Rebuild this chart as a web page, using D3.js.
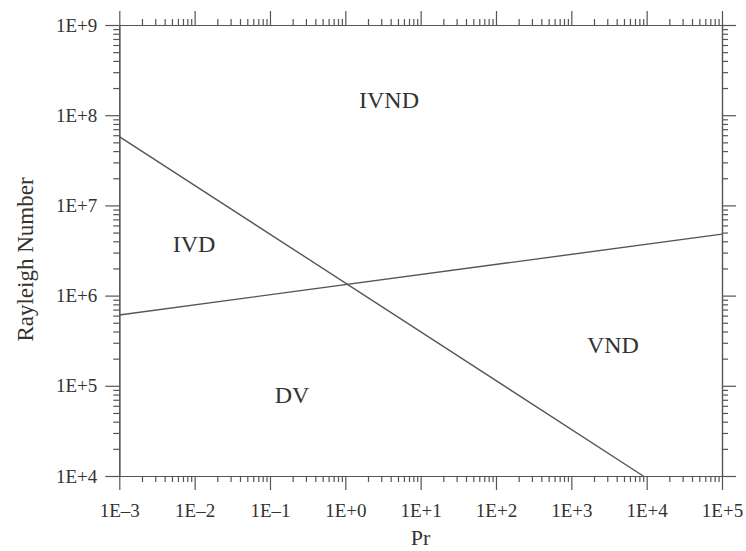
<!DOCTYPE html>
<html>
<head>
<meta charset="utf-8">
<script src="https://cdn.jsdelivr.net/npm/d3@7"></script>
<style>
  html, body { margin: 0; padding: 0; background: #fff; }
  svg { display: block; }
  text { font-family: "Liberation Serif", "Times New Roman", serif; fill: #333; }
</style>
</head>
<body>
<script>
// ---- data ----
const xMajorTicks = [1e-3, 1e-2, 1e-1, 1e0, 1e1, 1e2, 1e3, 1e4, 1e5];
const xTickLabels = ["1E\u20133", "1E\u20132", "1E\u20131", "1E+0", "1E+1", "1E+2", "1E+3", "1E+4", "1E+5"];
const yMajorTicks = [1e4, 1e5, 1e6, 1e7, 1e8, 1e9];
const yTickLabels = ["1E+4", "1E+5", "1E+6", "1E+7", "1E+8", "1E+9"];

// boundary line 1 (descending)
const line1Pr = [1e-3, 9.0e3];
const line1Ra = [5.8e7, 1e4];
// boundary line 2 (ascending)
const line2Pr = [1e-3, 1e5];
const line2Ra = [6.1e5, 4.8e6];

// region labels
const regionNames = ["IVND", "IVD", "DV", "VND"];
const regionPr = [3.8, 0.0098, 0.196, 3570];
const regionRa = [1.2e8, 3.04e6, 6.44e4, 2.31e5];

const xTitle = "Pr";
const yTitle = "Rayleigh Number";

// ---- layout ----
const W = 746, H = 551;
const L = 119.3, R = 722, T = 25, B = 476;
const axisColor = "#555";

const svg = d3.select("body").append("svg").attr("width", W).attr("height", H);

const x = d3.scaleLog().domain([1e-3, 1e5]).range([L, R]);
const y = d3.scaleLog().domain([1e4, 1e9]).range([B, T]);

function minorTicks(majors) {
  const out = [];
  for (let i = 0; i < majors.length - 1; i++) {
    for (let k = 2; k <= 9; k++) out.push(majors[i] * k);
  }
  return out;
}
const xMinor = minorTicks(xMajorTicks);
const yMinor = minorTicks(yMajorTicks);

function styleAxis(g) {
  g.selectAll("path, line").attr("stroke", axisColor).attr("stroke-width", 1.2);
  g.selectAll("text").attr("fill", "#333");
}

const MAJ = 14, MIN = 6;

// bottom
svg.append("g").attr("transform", `translate(0,${B})`)
  .call(d3.axisBottom(x).tickValues(xMinor).tickSize(MIN).tickSizeOuter(0).tickFormat(""))
  .call(styleAxis);
const gb = svg.append("g").attr("transform", `translate(0,${B})`)
  .call(d3.axisBottom(x).tickValues(xMajorTicks).tickSize(MAJ).tickSizeOuter(0)
    .tickPadding(14).tickFormat((d, i) => xTickLabels[i]))
  .call(styleAxis);
gb.selectAll("text").attr("font-size", 19).attr("font-family", "Liberation Serif");

// top
svg.append("g").attr("transform", `translate(0,${T})`)
  .call(d3.axisTop(x).tickValues(xMinor).tickSize(MIN).tickSizeOuter(0).tickFormat(""))
  .call(styleAxis);
svg.append("g").attr("transform", `translate(0,${T})`)
  .call(d3.axisTop(x).tickValues(xMajorTicks).tickSize(MAJ).tickSizeOuter(0).tickFormat(""))
  .call(styleAxis);

// left
svg.append("g").attr("transform", `translate(${L},0)`)
  .call(d3.axisLeft(y).tickValues(yMinor).tickSize(MIN).tickSizeOuter(0).tickFormat(""))
  .call(styleAxis);
const gl = svg.append("g").attr("transform", `translate(${L},0)`)
  .call(d3.axisLeft(y).tickValues(yMajorTicks).tickSize(MAJ).tickSizeOuter(0)
    .tickPadding(8).tickFormat((d, i) => yTickLabels[i]))
  .call(styleAxis);
gl.selectAll("text").attr("font-size", 19).attr("font-family", "Liberation Serif");

// right
svg.append("g").attr("transform", `translate(${R},0)`)
  .call(d3.axisRight(y).tickValues(yMinor).tickSize(MIN).tickSizeOuter(0).tickFormat(""))
  .call(styleAxis);
svg.append("g").attr("transform", `translate(${R},0)`)
  .call(d3.axisRight(y).tickValues(yMajorTicks).tickSize(MAJ).tickSizeOuter(0).tickFormat(""))
  .call(styleAxis);

// boundary lines
const lineGen = d3.line().x(d => x(d[0])).y(d => y(d[1]));
[[line1Pr, line1Ra], [line2Pr, line2Ra]].forEach(([px, py]) => {
  svg.append("path")
    .datum(px.map((v, i) => [v, py[i]]))
    .attr("d", lineGen)
    .attr("fill", "none")
    .attr("stroke", "#555")
    .attr("stroke-width", 1.4);
});

// region labels
svg.append("g").selectAll("text")
  .data(regionNames)
  .join("text")
  .attr("x", (d, i) => x(regionPr[i]))
  .attr("y", (d, i) => y(regionRa[i]))
  .attr("text-anchor", "middle")
  .attr("font-size", 24)
  .attr("fill", "#333")
  .text(d => d);

// axis titles
svg.append("text")
  .attr("x", (L + R) / 2)
  .attr("y", 545)
  .attr("text-anchor", "middle")
  .attr("font-size", 22)
  .text(xTitle);

svg.append("text")
  .attr("transform", `translate(32.5,${(T + B) / 2 + 9}) rotate(-90)`)
  .attr("text-anchor", "middle")
  .attr("font-size", 23)
  .text(yTitle);
</script>
</body>
</html>
